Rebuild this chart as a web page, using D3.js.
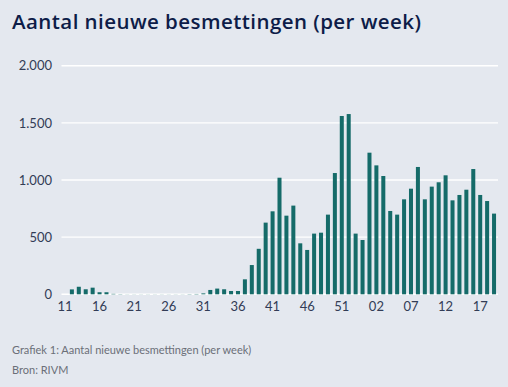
<!DOCTYPE html>
<html><head><meta charset="utf-8">
<script src="https://cdn.jsdelivr.net/npm/d3@7"></script>
<style>
html,body{margin:0;padding:0;background:#e4e8ef;}
svg{display:block;}
</style></head>
<body>
<svg id="c" width="508" height="387"></svg>
<script>
const title = "Aantal nieuwe besmettingen (per week)";
const caption = "Grafiek 1: Aantal nieuwe besmettingen (per week)";
const source = "Bron: RIVM";
const weeks = ["11","12","13","14","15","16","17","18","19","20","21","22","23","24","25","26","27","28","29","30",
  "31","32","33","34","35","36","37","38","39","40","41","42","43","44","45","46","47","48","49","50","51","52","53",
  "00","01","02","03","04","05","06","07","08","09","10","11 ","12 ","13 ","14 ","15 ","16 ","17 ","18 ","19 "];
const cases = [0,43,66,44,58,18,18,4,2,1,1,1,1,1,1,1,1,1,2,3,
  8,38,50,44,29,29,131,256,398,627,726,1020,688,776,446,388,531,539,697,1061,1560,1577,531,
  475,1239,1128,1035,729,697,831,924,1114,831,942,980,1041,822,869,915,1096,869,816,706];
const yTicks = [0,500,1000,1500,2000];

const svg = d3.select("#c");
const W = 508, H = 387;
svg.append("rect").attr("width",W).attr("height",H).attr("fill","#e4e8ef");

svg.append("text").attr("x",12).attr("y",29)
  .attr("font-family","Open Sans, sans-serif").attr("font-weight",600).attr("font-size",20.5)
  .attr("textLength",409).attr("lengthAdjust","spacing")
  .attr("fill","#0d1c48").text(title);

const x = d3.scaleBand().domain(weeks).range([61.5, 497.5]).paddingInner(0.42).paddingOuter(0.21);
const y = d3.scaleLinear().domain([0,2000]).range([294.3, 65.7]);

const loc = d3.formatLocale({decimal:",", thousands:".", grouping:[3], currency:["€",""]});
const fmt = loc.format(",");

// grid
svg.append("g").selectAll("line").data(yTicks).join("line")
  .attr("x1",61.5).attr("x2",498).attr("y1",d=>y(d)).attr("y2",d=>y(d))
  .attr("stroke","#ffffff").attr("stroke-width",1.4);

// bars
svg.append("g").selectAll("rect").data(weeks).join("rect")
  .attr("x",d=>x(d)).attr("width",x.bandwidth())
  .attr("y",(d,i)=>y(cases[i])).attr("height",(d,i)=>y(0)-y(cases[i]))
  .attr("fill","#156b69");

// y axis
const ya = svg.append("g").attr("transform","translate(58,0)")
  .call(d3.axisLeft(y).tickValues(yTicks).tickFormat(fmt).tickSize(0).tickPadding(6));
ya.select(".domain").remove();
ya.selectAll("text").attr("font-family","Lato, sans-serif").attr("font-size",13).attr("fill","#323c56");

// x axis
const xa = svg.append("g").attr("transform","translate(0,297)")
  .call(d3.axisBottom(x).tickValues(weeks.filter((d,i)=>i%5===0)).tickSize(0).tickPadding(5));
xa.select(".domain").remove();
xa.selectAll("text").attr("font-family","Lato, sans-serif").attr("font-size",13).attr("fill","#323c56")
  .text(d=>d.trim());

svg.append("text").attr("x",12).attr("y",354)
  .attr("font-family","Lato, sans-serif").attr("font-size",11).attr("fill","#6b6f78").text(caption);
svg.append("text").attr("x",12).attr("y",374)
  .attr("font-family","Lato, sans-serif").attr("font-size",11).attr("fill","#6b6f78").text(source);
</script>
</body></html>
